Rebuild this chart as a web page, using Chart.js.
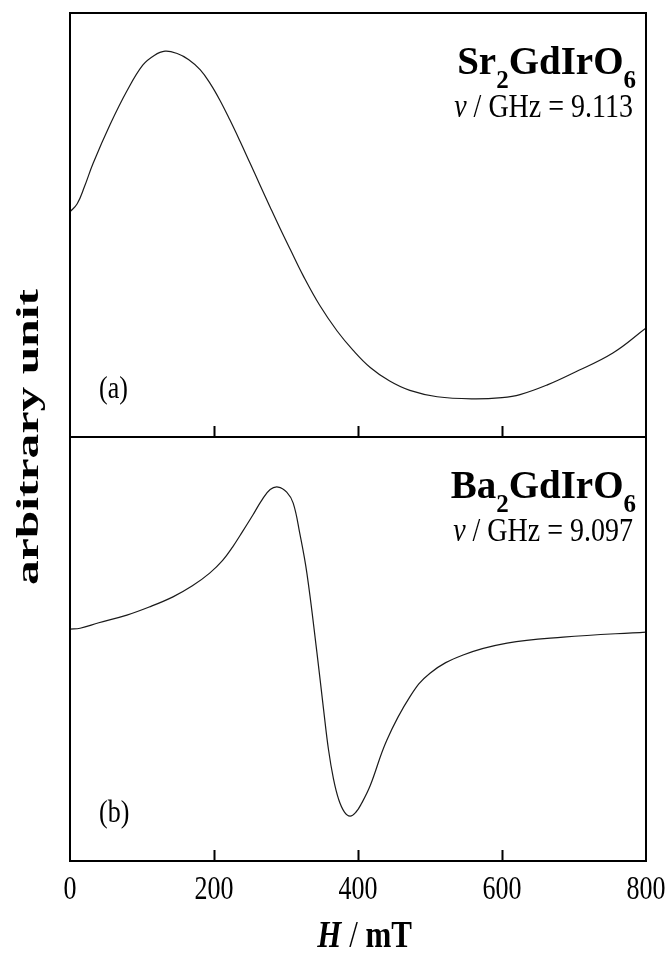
<!DOCTYPE html>
<html>
<head>
<meta charset="utf-8">
<title>ESR spectra</title>
<script src="https://cdn.jsdelivr.net/npm/chart.js@4.4.1/dist/chart.umd.min.js"></script>
<style>
  html, body { margin: 0; padding: 0; background: #fff; }
  #wrap { position: relative; width: 670px; height: 954px; }
</style>
</head>
<body>
<div id="wrap"><canvas id="plot" width="670" height="954"></canvas></div>
<script>
// field H in mT, signal in arbitrary units (0..100 inside each panel)
const fieldA  = [0, 10, 20, 32, 56, 79, 101, 117, 132, 148, 165, 181, 195, 208, 222, 236, 250, 264, 278, 292, 306, 324, 347, 371, 393, 417, 444, 472, 510, 560, 600, 625, 663, 699, 754, 800];
const signalA = [53.1, 55.0, 59.0, 64.5, 73.8, 81.6, 87.7, 90.0, 91.0, 90.5, 89.0, 86.6, 83.3, 79.5, 74.8, 69.8, 64.6, 59.4, 54.2, 49.1, 44.2, 38.0, 31.0, 25.0, 20.5, 16.4, 13.2, 11.0, 9.5, 9.0, 9.3, 10.0, 12.3, 15.1, 19.8, 25.7];

const fieldB  = [0, 14, 40, 79, 110, 143, 170, 194, 212, 226, 240, 254, 266, 278, 289, 301, 310, 319, 329, 343, 352, 359, 366, 373, 381, 389, 397, 405, 417, 440, 472, 500, 546, 607, 685, 800];
const signalB = [54.7, 54.9, 56.2, 58.0, 59.9, 62.3, 64.9, 67.9, 70.9, 74.1, 77.8, 81.6, 85.0, 87.6, 88.2, 87.0, 84.4, 77.4, 67.9, 49.1, 36.0, 26.3, 19.3, 14.6, 11.6, 10.6, 11.5, 13.6, 17.8, 28.5, 38.7, 44.3, 48.6, 51.4, 52.8, 54.0];

const fieldTicks = [0, 200, 400, 600, 800];
const panelTags = ['(a)', '(b)'];
const compounds = [['Sr', '2', 'GdIrO', '6'], ['Ba', '2', 'GdIrO', '6']];
const frequencies = ['9.113', '9.097'];

const SERIF = '"Liberation Serif", "Times New Roman", serif';

function toPoints(xs, ys) {
  return xs.map((x, i) => ({ x: x, y: ys[i] }));
}

// draw a row of differently styled pieces, right aligned at xr
function drawRuns(ctx, runs, xr, y, sy) {
  let w = 0;
  runs.forEach(r => { ctx.font = r.font; w += ctx.measureText(r.text).width; });
  ctx.save();
  ctx.translate(xr - w, y);
  ctx.scale(1, sy);
  let cx = 0;
  runs.forEach(r => {
    ctx.font = r.font;
    ctx.fillText(r.text, cx, (r.dy || 0) / sy);
    cx += ctx.measureText(r.text).width;
  });
  ctx.restore();
}

function tallText(ctx, text, x, y, font, sy, align) {
  ctx.save();
  ctx.font = font;
  ctx.textAlign = align;
  ctx.translate(x, y);
  ctx.scale(1, sy);
  ctx.fillText(text, 0, 0);
  ctx.restore();
}

const framePlugin = {
  id: 'frame',
  afterDraw(chart) {
    const { ctx, chartArea: a, scales } = chart;
    const x = scales.x;
    const panels = [scales.yA, scales.yB];
    ctx.save();
    ctx.strokeStyle = '#000';
    ctx.fillStyle = '#000';
    ctx.lineWidth = 2;
    ctx.strokeRect(a.left, a.top, a.right - a.left, a.bottom - a.top);
    ctx.beginPath();
    ctx.moveTo(a.left, scales.yA.bottom);
    ctx.lineTo(a.right, scales.yA.bottom);
    ctx.stroke();

    // inward ticks along the bottom of each panel
    ctx.beginPath();
    x.ticks.forEach(t => {
      if (t.value <= x.min || t.value >= x.max) return;
      const px = Math.round(x.getPixelForValue(t.value)) + 0.5;
      panels.forEach(p => {
        ctx.moveTo(px, p.bottom);
        ctx.lineTo(px, p.bottom - 11);
      });
    });
    ctx.stroke();

    // tick labels
    ctx.textBaseline = 'alphabetic';
    x.ticks.forEach(t => {
      tallText(ctx, String(t.value), x.getPixelForValue(t.value), 899, '26px ' + SERIF, 1.3, 'center');
    });

    // axis titles
    drawRuns(ctx, [
      { text: 'H', font: 'bold italic 31px ' + SERIF },
      { text: ' / ', font: '31px ' + SERIF },
      { text: 'mT', font: 'bold 31px ' + SERIF }
    ], (a.left + a.right) / 2 + 54, 947, 1.2);

    ctx.save();
    ctx.translate(30, (a.top + a.bottom) / 2);
    ctx.rotate(-Math.PI / 2);
    ctx.scale(1.55, 1);
    ctx.font = 'bold 32px ' + SERIF;
    ctx.textAlign = 'center';
    ctx.textBaseline = 'middle';
    ctx.fillText('arbitrary unit', 0, 0);
    ctx.restore();

    // compound name, frequency and panel tag in each panel
    panels.forEach((p, i) => {
      const c = compounds[i];
      drawRuns(ctx, [
        { text: c[0], font: 'bold 39px ' + SERIF },
        { text: c[1], font: 'bold 25px ' + SERIF, dy: 14 },
        { text: c[2], font: 'bold 39px ' + SERIF },
        { text: c[3], font: 'bold 25px ' + SERIF, dy: 14 }
      ], a.right - 10, p.top + 61, 1.05);
      drawRuns(ctx, [
        { text: '\u03BD', font: 'italic 28px ' + SERIF },
        { text: ' / GHz = ' + frequencies[i], font: '28px ' + SERIF }
      ], a.right - 13, p.top + 104, 1.2);
      tallText(ctx, panelTags[i], a.left + 29, p.bottom - 39, '26px ' + SERIF, 1.25, 'left');
    });
    ctx.restore();
  }
};

const lineStyle = {
  borderColor: '#1a1a1a',
  borderWidth: 1.2,
  pointRadius: 0,
  fill: false,
  tension: 0.4
};

new Chart(document.getElementById('plot').getContext('2d'), {
  type: 'line',
  data: {
    datasets: [
      Object.assign({ label: 'Sr2GdIrO6', data: toPoints(fieldA, signalA), yAxisID: 'yA' }, lineStyle),
      Object.assign({ label: 'Ba2GdIrO6', data: toPoints(fieldB, signalB), yAxisID: 'yB' }, lineStyle)
    ]
  },
  options: {
    responsive: false,
    animation: false,
    devicePixelRatio: 1,
    layout: { padding: { left: 70, right: 24, top: 13, bottom: 0 } },
    plugins: { legend: { display: false }, tooltip: { enabled: false } },
    scales: {
      x: {
        type: 'linear',
        min: 0,
        max: 800,
        afterBuildTicks: s => { s.ticks = fieldTicks.map(v => ({ value: v })); },
        afterFit: s => { s.height = 93; },
        ticks: { display: false },
        grid: { display: false },
        border: { display: false }
      },
      // bottom panel is listed first, stacked axes place the last one on top
      yB: {
        type: 'linear', position: 'left', stack: 'panels', stackWeight: 1,
        min: 0, max: 100,
        afterFit: s => { s.width = 0; },
        ticks: { display: false }, grid: { display: false }, border: { display: false }
      },
      yA: {
        type: 'linear', position: 'left', stack: 'panels', stackWeight: 1,
        min: 0, max: 100,
        afterFit: s => { s.width = 0; },
        ticks: { display: false }, grid: { display: false }, border: { display: false }
      }
    }
  },
  plugins: [framePlugin]
});
</script>
</body>
</html>
